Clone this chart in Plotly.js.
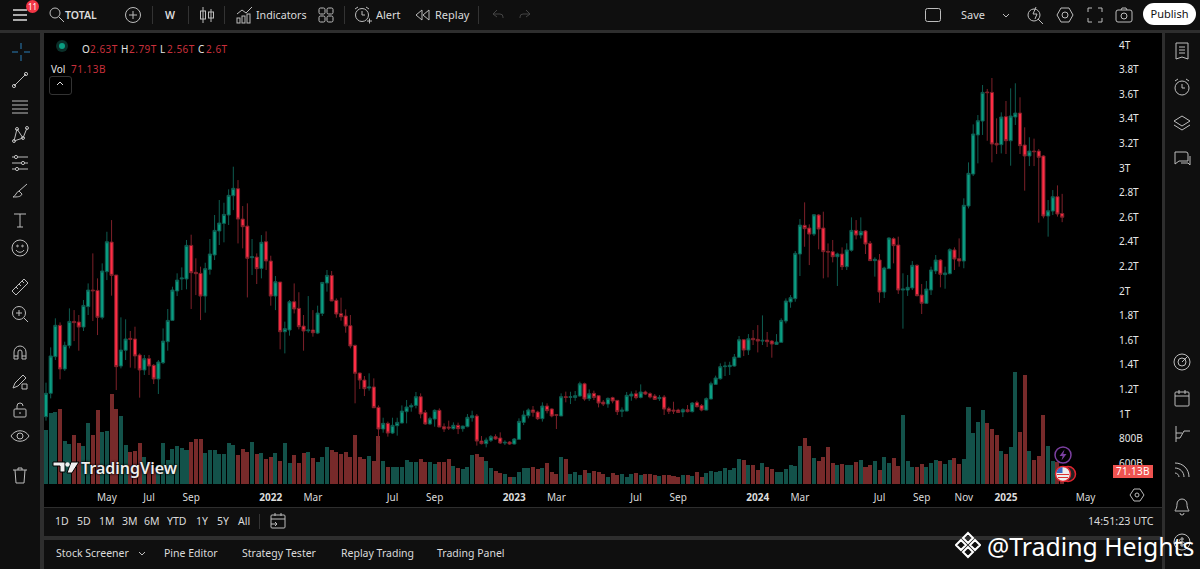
<!DOCTYPE html>
<html><head><meta charset="utf-8">
<script src="https://cdn.plot.ly/plotly-3.0.1.min.js"></script>
<style>
html,body{margin:0;padding:0;background:#2e2e2e;width:1200px;height:569px;overflow:hidden;font-family:"Noto Sans",sans-serif;color:#dbdbdb}
.p{position:absolute}
.t{position:absolute;white-space:nowrap;font-size:11px;line-height:14px;color:#dbdbdb}
#chart{position:absolute;left:0;top:0;width:1200px;height:569px}
svg.i{position:absolute;fill:none;stroke:#bdbdbd;stroke-width:1}
</style></head><body>
<div class="p" style="left:0;top:0;width:1200px;height:30px;background:#0f0f0f"></div>
<div class="p" style="left:0;top:33px;width:40px;height:536px;background:#0f0f0f"></div>
<div class="p" style="left:44px;top:33px;width:1118px;height:474px;background:#000"></div>
<div class="p" style="left:44px;top:508px;width:1118px;height:28px;background:#0f0f0f"></div>
<div class="p" style="left:44px;top:540px;width:1118px;height:29px;background:#0f0f0f"></div>
<div class="p" style="left:1165px;top:33px;width:35px;height:536px;background:#0f0f0f"></div>
<div id="chart"></div>
<div id="ui"></div>
<script>
const weeks=[
'2021-02-01','2021-02-08','2021-02-15','2021-02-22','2021-03-01','2021-03-08','2021-03-15','2021-03-22','2021-03-29','2021-04-05','2021-04-12','2021-04-19','2021-04-26','2021-05-03','2021-05-10','2021-05-17','2021-05-24','2021-05-31','2021-06-07','2021-06-14','2021-06-21','2021-06-28','2021-07-05','2021-07-12','2021-07-19','2021-07-26','2021-08-02','2021-08-09','2021-08-16','2021-08-23','2021-08-30','2021-09-06','2021-09-13','2021-09-20','2021-09-27','2021-10-04','2021-10-11','2021-10-18','2021-10-25','2021-11-01','2021-11-08','2021-11-15','2021-11-22','2021-11-29','2021-12-06','2021-12-13','2021-12-20','2021-12-27',
'2022-01-03','2022-01-10','2022-01-17','2022-01-24','2022-01-31','2022-02-07','2022-02-14','2022-02-21','2022-02-28','2022-03-07','2022-03-14','2022-03-21','2022-03-28','2022-04-04','2022-04-11','2022-04-18','2022-04-25','2022-05-02','2022-05-09','2022-05-16','2022-05-23','2022-05-30','2022-06-06','2022-06-13','2022-06-20','2022-06-27','2022-07-04','2022-07-11','2022-07-18','2022-07-25','2022-08-01','2022-08-08','2022-08-15','2022-08-22','2022-08-29','2022-09-05','2022-09-12','2022-09-19','2022-09-26','2022-10-03','2022-10-10','2022-10-17','2022-10-24','2022-10-31','2022-11-07','2022-11-14','2022-11-21','2022-11-28','2022-12-05','2022-12-12','2022-12-19','2022-12-26',
'2023-01-02','2023-01-09','2023-01-16','2023-01-23','2023-01-30','2023-02-06','2023-02-13','2023-02-20','2023-02-27','2023-03-06','2023-03-13','2023-03-20','2023-03-27','2023-04-03','2023-04-10','2023-04-17','2023-04-24','2023-05-01','2023-05-08','2023-05-15','2023-05-22','2023-05-29','2023-06-05','2023-06-12','2023-06-19','2023-06-26','2023-07-03','2023-07-10','2023-07-17','2023-07-24','2023-07-31','2023-08-07','2023-08-14','2023-08-21','2023-08-28','2023-09-04','2023-09-11','2023-09-18','2023-09-25','2023-10-02','2023-10-09','2023-10-16','2023-10-23','2023-10-30','2023-11-06','2023-11-13','2023-11-20','2023-11-27','2023-12-04','2023-12-11','2023-12-18','2023-12-25',
'2024-01-01','2024-01-08','2024-01-15','2024-01-22','2024-01-29','2024-02-05','2024-02-12','2024-02-19','2024-02-26','2024-03-04','2024-03-11','2024-03-18','2024-03-25','2024-04-01','2024-04-08','2024-04-15','2024-04-22','2024-04-29','2024-05-06','2024-05-13','2024-05-20','2024-05-27','2024-06-03','2024-06-10','2024-06-17','2024-06-24','2024-07-01','2024-07-08','2024-07-15','2024-07-22','2024-07-29','2024-08-05','2024-08-12','2024-08-19','2024-08-26','2024-09-02','2024-09-09','2024-09-16','2024-09-23','2024-09-30','2024-10-07','2024-10-14','2024-10-21','2024-10-28','2024-11-04','2024-11-11','2024-11-18','2024-11-25','2024-12-02','2024-12-09','2024-12-16','2024-12-23','2024-12-30',
'2025-01-06','2025-01-13','2025-01-20','2025-01-27','2025-02-03','2025-02-10','2025-02-17','2025-02-24','2025-03-03','2025-03-10','2025-03-17','2025-03-24','2025-03-31'];
// trillions
const opens=[0.978,1.168,1.466,1.721,1.366,1.556,1.753,1.748,1.707,1.873,2.008,2.005,1.786,2.157,2.398,2.13,1.39,1.518,1.615,1.61,1.48,1.358,1.45,1.396,1.285,1.417,1.588,1.761,2.0,2.098,2.098,2.371,2.152,2.144,1.959,2.176,2.293,2.488,2.55,2.618,2.775,2.832,2.585,2.528,2.271,2.276,2.184,2.401,2.244,1.959,2.073,1.669,1.683,1.913,1.859,1.715,1.677,1.683,
1.658,1.818,2.065,2.127,1.924,1.816,1.797,1.718,1.558,1.333,1.276,1.211,1.22,1.054,0.878,0.924,0.845,0.905,0.927,1.019,1.057,1.07,1.141,1.013,0.919,0.959,1.03,0.897,0.894,0.881,0.908,0.881,0.897,0.97,0.984,0.78,0.759,0.786,0.816,0.805,0.764,0.772,0.756,0.794,0.932,0.986,1.033,1.016,0.962,1.065,1.041,0.995,0.984,1.141,
1.135,1.135,1.146,1.246,1.125,1.168,1.149,1.097,1.081,1.133,1.111,1.022,1.024,1.146,1.165,1.135,1.179,1.165,1.146,1.125,1.138,1.043,1.032,1.032,1.016,1.035,1.019,1.092,1.07,1.032,1.122,1.241,1.287,1.385,1.385,1.39,1.461,1.604,1.52,1.615,1.607,1.593,1.601,1.593,1.566,1.583,1.756,1.911,1.938,2.301,2.534,2.512,2.463,2.618,2.512,2.322,
2.32,2.279,2.301,2.198,2.331,2.493,2.455,2.488,2.388,2.247,2.252,1.992,2.182,2.426,2.374,2.008,2.008,2.025,2.209,1.968,1.9,2.008,2.163,2.252,2.133,2.141,2.334,2.263,2.244,2.691,2.951,3.269,3.382,3.618,3.615,3.201,3.19,3.418,3.222,3.415,3.447,3.187,3.098,3.138,3.138,3.098,2.61,2.65,2.767,2.63];
const highs=[1.255,1.542,1.778,1.745,1.588,1.859,1.845,1.805,1.927,2.062,2.306,2.103,2.225,2.482,2.577,2.13,1.786,1.77,1.675,1.71,1.493,1.48,1.48,1.406,1.439,1.696,1.854,2.035,2.144,2.192,2.415,2.458,2.266,2.198,2.23,2.423,2.618,2.74,2.718,2.827,3.011,2.902,2.691,2.713,2.423,2.306,2.455,2.485,2.287,2.122,2.073,1.751,1.927,2.062,1.99,1.805,1.959,1.845,
1.881,2.07,2.171,2.163,1.94,1.946,1.851,1.805,1.564,1.336,1.309,1.331,1.29,1.07,0.97,0.938,0.97,0.97,1.07,1.114,1.087,1.179,1.168,1.032,0.978,1.038,1.046,0.924,0.946,0.932,0.93,0.905,1.0,1.027,1.0,0.821,0.808,0.829,0.835,0.851,0.786,0.78,0.805,0.965,1.027,1.046,1.065,1.027,1.095,1.087,1.046,0.997,1.168,1.182,
1.181,1.187,1.263,1.255,1.2,1.19,1.152,1.114,1.135,1.141,1.114,1.054,1.179,1.184,1.192,1.241,1.19,1.176,1.162,1.154,1.154,1.059,1.1,1.043,1.046,1.073,1.097,1.108,1.081,1.135,1.263,1.312,1.412,1.425,1.425,1.488,1.634,1.607,1.65,1.683,1.723,1.802,1.667,1.601,1.65,1.778,1.94,1.967,2.325,2.585,2.721,2.542,2.626,2.626,2.645,2.387,
2.415,2.312,2.355,2.388,2.599,2.577,2.599,2.496,2.407,2.274,2.301,2.198,2.437,2.437,2.442,2.144,2.13,2.244,2.217,2.057,2.082,2.198,2.293,2.26,2.198,2.347,2.355,2.428,2.754,3.046,3.355,3.431,3.675,3.643,3.732,3.404,3.453,3.545,3.648,3.689,3.575,3.331,3.25,3.239,3.155,3.106,2.74,2.821,2.859,2.79];
const lows=[0.946,1.127,1.439,1.282,1.35,1.534,1.593,1.515,1.675,1.805,1.756,1.642,1.77,2.089,1.962,1.195,1.371,1.439,1.377,1.371,1.133,1.317,1.317,1.244,1.163,1.406,1.515,1.756,1.959,2.008,2.014,1.854,1.967,1.764,1.824,2.133,2.252,2.374,2.396,2.537,2.658,2.387,2.347,1.948,2.13,2.057,2.103,2.171,1.881,1.845,1.526,1.493,1.637,1.818,1.688,1.515,1.661,1.629,
1.65,1.797,1.995,1.919,1.783,1.759,1.661,1.534,1.087,1.203,1.146,1.19,1.051,0.761,0.848,0.816,0.837,0.824,0.924,0.924,1.019,1.046,0.965,0.913,0.913,0.897,0.894,0.854,0.87,0.873,0.837,0.856,0.892,0.938,0.743,0.753,0.729,0.772,0.791,0.756,0.748,0.75,0.753,0.794,0.91,0.965,0.978,0.951,0.938,1.005,0.973,0.878,0.984,1.095,
1.081,1.108,1.141,1.108,1.106,1.114,1.054,1.065,1.051,1.087,0.992,0.975,1.022,1.108,1.119,1.127,1.154,1.127,1.114,1.106,0.992,1.0,1.0,1.008,0.975,1.013,1.013,1.054,1.022,1.03,1.119,1.236,1.279,1.309,1.317,1.385,1.458,1.471,1.48,1.561,1.501,1.561,1.545,1.458,1.561,1.58,1.737,1.864,1.913,2.122,2.36,2.211,2.447,2.339,2.103,2.111,
2.233,2.041,2.171,2.171,2.32,2.42,2.428,2.301,2.244,2.117,1.905,1.943,2.179,2.225,1.976,1.694,1.96,2.008,1.957,1.813,1.895,1.968,2.138,2.03,2.019,2.136,2.171,2.198,2.185,2.672,2.935,3.038,3.269,3.222,3.046,3.114,3.119,3.114,3.019,3.35,3.114,2.816,3.016,3.016,2.556,2.591,2.442,2.618,2.605,2.56];
const closes=[1.168,1.472,1.721,1.366,1.558,1.753,1.743,1.707,1.883,2.008,2.002,1.786,2.163,2.401,2.127,1.385,1.52,1.61,1.607,1.472,1.358,1.45,1.39,1.285,1.423,1.593,1.761,2.008,2.089,2.106,2.371,2.149,2.141,1.959,2.182,2.301,2.493,2.553,2.623,2.778,2.835,2.585,2.523,2.266,2.279,2.182,2.396,2.244,1.959,2.076,1.669,1.694,1.913,1.854,1.71,1.675,1.683,1.661,
1.821,2.07,2.127,1.919,1.813,1.791,1.715,1.553,1.331,1.276,1.206,1.22,1.051,0.878,0.924,0.845,0.908,0.932,1.024,1.057,1.07,1.141,1.0,0.919,0.962,1.03,0.894,0.878,0.886,0.908,0.881,0.902,0.973,0.986,0.78,0.759,0.789,0.816,0.797,0.764,0.77,0.756,0.797,0.94,0.992,1.033,1.014,0.962,1.065,1.027,0.984,0.989,1.141,1.135,
1.141,1.149,1.246,1.122,1.165,1.135,1.089,1.081,1.127,1.106,1.019,1.032,1.152,1.162,1.133,1.179,1.162,1.138,1.119,1.135,1.04,1.022,1.024,1.013,1.035,1.019,1.089,1.059,1.032,1.125,1.246,1.293,1.385,1.39,1.396,1.463,1.604,1.52,1.612,1.604,1.593,1.599,1.588,1.569,1.585,1.761,1.919,1.946,2.306,2.536,2.507,2.463,2.62,2.504,2.32,2.317,
2.279,2.301,2.198,2.334,2.493,2.455,2.485,2.382,2.247,2.258,1.992,2.187,2.431,2.369,2.008,2.016,2.03,2.209,1.962,1.9,2.016,2.171,2.252,2.136,2.147,2.336,2.26,2.244,2.697,2.957,3.277,3.385,3.615,3.613,3.195,3.187,3.415,3.222,3.423,3.447,3.182,3.098,3.138,3.133,3.087,2.61,2.653,2.767,2.626,2.6];
// billions
const volumes=[293,389,395,413,235,217,268,222,207,331,268,404,282,289,491,413,373,213,173,180,222,146,122,86,104,222,131,189,207,195,184,229,248,248,169,184,184,166,166,222,211,160,193,175,228,164,167,137,149,169,127,222,116,160,116,167,177,144,
122,146,204,184,173,164,175,146,268,146,138,153,126,262,126,93,91,93,95,131,122,122,138,122,118,109,118,118,135,98,87,84,95,157,164,149,126,87,71,60,55,36,38,67,86,87,93,82,87,115,66,55,146,138,
56,67,49,76,60,71,64,55,40,58,51,53,36,56,58,47,55,56,49,44,47,47,44,40,47,47,44,64,40,60,71,64,71,87,76,87,137,131,104,106,78,115,93,80,66,66,80,102,98,207,249,207,142,126,146,202,
115,104,111,104,104,122,131,95,104,126,76,149,115,140,100,377,126,91,95,111,95,116,129,126,111,129,140,107,135,419,278,339,404,333,300,268,180,166,202,613,284,595,180,129,153,380,206,126,122,71.13];
const priceTicks=[4,3.8,3.6,3.4,3.2,3,2.8,2.6,2.4,2.2,2,1.8,1.6,1.4,1.2,1,0.8,0.6];
const priceLabels=['4T','3.8T','3.6T','3.4T','3.2T','3T','2.8T','2.6T','2.4T','2.2T','2T','1.8T','1.6T','1.4T','1.2T','1T','800B','600B'];
const timeTicks=['2021-05-03','2021-07-05','2021-09-06','2022-01-03','2022-03-07','2022-07-04','2022-09-05','2023-01-02','2023-03-06','2023-07-03','2023-09-04','2024-01-01','2024-03-04','2024-07-01','2024-09-02','2024-11-04','2025-01-06','2025-05-05'];
const timeLabels=['May','Jul','Sep','<b>2022</b>','Mar','Jul','Sep','<b>2023</b>','Mar','Jul','Sep','<b>2024</b>','Mar','Jul','Sep','Nov','<b>2025</b>','May'];

const UP='#0a9e82',DN='#ff2d45',UPW='#0e5c50',DNW='#7d2029',UPV='#13524a',DNV='#772a2a';
const font='"Noto Sans",sans-serif';
Plotly.newPlot('chart',[
 {type:'bar',x:weeks,y:volumes,xaxis:'x',yaxis:'y',width:7*864e5*0.86,
  marker:{color:closes.map((c,i)=>c>=opens[i]?UPV:DNV),line:{width:0}},hoverinfo:'skip'},
 {type:'candlestick',x:weeks,open:opens,high:highs,low:lows,close:closes,xaxis:'x',yaxis:'y2',whiskerwidth:0,
  increasing:{line:{color:UPW,width:1},fillcolor:UP},decreasing:{line:{color:DNW,width:1},fillcolor:DN},hoverinfo:'skip'}
],{
 width:1200,height:569,margin:{l:44,r:87,t:33,b:85,pad:0},showlegend:false,
 paper_bgcolor:'rgba(0,0,0,0)',plot_bgcolor:'#000',bargap:0,boxgap:0.05,boxgroupgap:0.3,
 xaxis:{type:'date',range:['2021-01-29','2025-06-15'],rangeslider:{visible:false},showgrid:false,zeroline:false,showline:false,
  tickmode:'array',tickvals:timeTicks,ticktext:timeLabels,ticks:'outside',ticklen:4,tickcolor:'rgba(0,0,0,0)',tickangle:0,
  tickfont:{family:font,size:10,color:'#dbdbdb'}},
 yaxis:{range:[0,2467],visible:false,fixedrange:true},
 yaxis2:{overlaying:'y',side:'right',range:[0.431,4.098],showgrid:false,zeroline:false,showline:false,
  tickmode:'array',tickvals:priceTicks,ticktext:priceLabels,ticks:'outside',ticklen:3,tickcolor:'rgba(0,0,0,0)',
  tickfont:{family:font,size:10,color:'#e6e6e6'}}
},{staticPlot:true,displayModeBar:false});

const ui=document.getElementById('ui');
function txt(s,x,y,o={}){const d=document.createElement('div');d.className='t';d.textContent=s;d.style.left=x+'px';d.style.top=(y-7)+'px';
 Object.assign(d.style,o);ui.appendChild(d);return d;}
function ic(x,y,body,w=20,h=20,c){const n='http://www.w3.org/2000/svg',s=document.createElementNS(n,'svg');s.setAttribute('class','i');s.setAttribute('width',w);s.setAttribute('height',h);s.setAttribute('viewBox',`0 0 ${w} ${h}`);
 s.style.left=(x-w/2)+'px';s.style.top=(y-h/2)+'px';if(c)s.style.stroke=c;s.innerHTML=body;ui.appendChild(s);}
// top bar
ic(20,15,'<path d="M3 5h14M3 10h14M3 15h14" stroke-width="1.6" stroke="#ddd"/>');
txt('11',27,7,{left:'26px',width:'13px',height:'13px',lineHeight:'13px',borderRadius:'7px',background:'#f23645',color:'#fff',fontSize:'8px',textAlign:'center'});
ic(57,15,'<circle cx="8" cy="8" r="5"/><path d="M12 12l5 5"/>');
txt('TOTAL',65,15,{fontWeight:'600',fontSize:'10.5px'});
ic(133,15,'<circle cx="10" cy="10" r="7.5"/><path d="M6 10h8M10 6v8"/>');
txt('W',165,15,{fontWeight:'600',fontSize:'10.5px'});
ic(207,15,'<path d="M6 2v16M14 4v13"/><rect x="3.5" y="6" width="5" height="8" /><rect x="11.5" y="7" width="5" height="6"/>');
ic(244,15,'<path d="M3 9l5-4 4 3 6-6"/><rect x="3" y="13" width="3" height="5"/><rect x="8" y="11" width="3" height="7"/><rect x="13" y="9" width="3" height="9"/>');
txt('Indicators',256,15,{fontSize:'10.7px'});
ic(326,15,'<rect x="3" y="3" width="6" height="6" rx="1.5"/><rect x="11" y="3" width="6" height="6" rx="1.5"/><rect x="3" y="11" width="6" height="6" rx="1.5"/><rect x="11" y="11" width="6" height="6" rx="1.5"/>');
ic(363,15,'<circle cx="9" cy="10" r="6.5"/><path d="M9 6v4h3M2 4l3-2M16 4l-3-2M14 16h5M16.5 13.5v5"/>');
txt('Alert',376,15);
ic(423,15,'<path d="M9 5l-6 5 6 5zM16 5l-6 5 6 5z"/>');
txt('Replay',435,15);
ic(497,15,'<path d="M6 9l4-4M6 9l4 3M6 9h7a3 3 0 0 1 3 3v1"/>',20,20,'#444');
ic(526,15,'<path d="M14 9l-4-4M14 9l-4 3M14 9h-7a3 3 0 0 0-3 3v1"/>',20,20,'#444');
for(const x of [152,188,224,344,478]){const d=document.createElement('div');d.className='p';d.style.cssText=`left:${x}px;top:6px;width:1px;height:18px;background:#333`;ui.appendChild(d);}
ic(933,15,'<rect x="2.5" y="3.5" width="15" height="13" rx="2"/>');
txt('Save',961,15);
ic(1006,15,'<path d="M7 9l3 3 3-3"/>');
ic(1035,15,'<circle cx="9" cy="10" r="6"/><path d="M13 14l5 5M11 2l-3 7h4l-2 5" />');
ic(1065,15,'<path d="M6 3h8l4 7-4 7H6l-4-7z"/><circle cx="10" cy="10" r="3"/>');
ic(1095,15,'<path d="M3 7V3h4M13 3h4v4M17 13v4h-4M7 17H3v-4"/>');
ic(1124,15,'<rect x="2" y="5" width="16" height="12" rx="2"/><circle cx="10" cy="11" r="3"/><path d="M7 5l1-2h4l1 2"/>');
const pub=document.createElement('div');pub.className='t';pub.textContent='Publish';
pub.style.cssText='left:1143px;top:3px;width:53px;height:22px;line-height:22px;border-radius:11px;background:#fff;color:#111;text-align:center;font-size:11px';ui.appendChild(pub);
// legend
const dot=document.createElement('div');dot.className='p';dot.style.cssText='left:59px;top:43px;width:6px;height:6px;border-radius:50%;background:#0a9e82;box-shadow:0 0 0 3px #0b2f29';ui.appendChild(dot);
const RED={color:'#c9303c',fontSize:'10px',letterSpacing:'.5px'},W={color:'#e6e6e6',fontSize:'10px'};
txt('O',82,49,W);txt('2.63T',90,49,RED);txt('H',121,49,W);txt('2.79T',129,49,RED);txt('L',160,49,W);txt('2.56T',167,49,RED);txt('C',198,49,W);txt('2.6T',206,49,RED);
txt('Vol',51,69,W);txt('71.13B',71,69,RED);
const col=document.createElement('div');col.className='p';col.style.cssText='left:49px;top:76px;width:21px;height:17px;border:1px solid #333;border-radius:3px';ui.appendChild(col);
ic(60,84,'<path d="M7 11l3-3 3 3" stroke="#ddd"/>');
// logo
ic(66,468,'<path d="M1 3h12v10H8V7H1z" fill="#f0f0f0" stroke="#000"/><path d="M19 3h8l-7 11h-5z" fill="#f0f0f0" stroke="#000"/><circle cx="15.5" cy="5.5" r="2.2" fill="#f0f0f0" stroke="none"/>',28,18);
txt('TradingView',81,468,{fontSize:'16px',fontWeight:'600',color:'#eee',textShadow:'0 0 3px #000,0 0 2px #000'});
// markers
ic(1063,455,'<circle cx="10" cy="10" r="8" stroke="#7b3fa0" stroke-width="1.5"/><path d="M11.5 4.5L6.5 11h3.2L8.5 15.5 13.5 9h-3.2z" fill="#7b3fa0" stroke="none"/>',20,20);
ic(1068,474,'<circle cx="9" cy="9" r="7.5" stroke="#e0242f" fill="#222" stroke-width="1.5"/>',18,18);
ic(1063,474,'<circle cx="9" cy="9" r="7.5" stroke="#e0242f" fill="#eee" stroke-width="1.5"/><path d="M3 9.5h12M4 12.5h10" stroke="#d33"/><path d="M2.5 8a7 7 0 0 1 6-6v6z" fill="#3b6bc4" stroke="none"/>',18,18);
const vl=document.createElement('div');vl.className='t';vl.textContent='71.13B';
vl.style.cssText='left:1113px;top:465px;width:40px;height:13px;line-height:13px;background:#ef5350;color:#fff;font-size:10px;text-align:center;letter-spacing:.3px';ui.appendChild(vl);
ic(1137,495,'<path d="M6 3h6l4 6-4 6H6L2 9z"/><circle cx="9" cy="9" r="2"/>',18,18,'#bbb');
// range bar
const ranges=[['1D',55],['5D',77],['1M',99],['3M',122],['6M',144],['YTD',167],['1Y',196],['5Y',217],['All',238]];
ranges.forEach(r=>txt(r[0],r[1],521,{fontSize:'10.5px'}));
const sep=document.createElement('div');sep.className='p';sep.style.cssText='left:259px;top:514px;width:1px;height:15px;background:#333';ui.appendChild(sep);
ic(278,521,'<rect x="3" y="4" width="14" height="13" rx="1"/><path d="M3 8h14M7 2v3M13 2v3M3 13h6M7 11l2 2-2 2"/>');
txt('14:51:23 UTC',1088,521,{fontSize:'10.7px'});
// tabs
[['Stock Screener',56],['Pine Editor',164],['Strategy Tester',242],['Replay Trading',341],['Trading Panel',437]].forEach(r=>txt(r[0],r[1],553,{fontSize:'10.5px'}));
ic(142,553,'<path d="M7 9l3 3 3-3"/>');
// left toolbar
ic(21,52,'<path d="M10 1v6M10 13v6M1 10h6M13 10h6" stroke="#2a7fb8"/>');
ic(20,80,'<path d="M4 16L16 4"/><circle cx="4" cy="16" r="1.6"/><circle cx="16" cy="4" r="1.6"/>');
ic(20,107,'<path d="M2 4h16M2 8h16M2 12h16M2 16h16"/>');
ic(20,135,'<path d="M4 16L7 4l6 9 4-10M4 16l9-3"/><circle cx="4" cy="16" r="1.5"/><circle cx="7" cy="4" r="1.5"/><circle cx="13" cy="13" r="1.5"/><circle cx="17" cy="3" r="1.5"/>');
ic(20,163,'<path d="M2 4h16M2 10h16M2 16h16"/><circle cx="6" cy="4" r="1.6" fill="#0f0f0f"/><circle cx="13" cy="10" r="1.6" fill="#0f0f0f"/><circle cx="7" cy="16" r="1.6" fill="#0f0f0f"/>');
ic(20,191,'<path d="M3 16c3-1 3-5 6-6l3 3c-1 3-5 3-9 3zM9 10l8-7"/>');
ic(20,220,'<path d="M4 4h12M10 4v13M7 17h6"/>');
ic(20,248,'<circle cx="10" cy="10" r="8"/><circle cx="7.5" cy="8" r=".8"/><circle cx="12.5" cy="8" r=".8"/><path d="M6 12c2 3 6 3 8 0"/>');
ic(20,287,'<path d="M2 14L14 2l4 4L6 18zM6 10l2 2M9 7l2 2M12 4l2 2"/>');
ic(20,314,'<circle cx="9" cy="9" r="6.5"/><path d="M14 14l4 4M6 9h6M9 6v6"/>');
ic(20,353,'<path d="M4 16V9a6 6 0 0 1 12 0v7h-4V9a2 2 0 0 0-4 0v7zM4 13h4M12 13h4"/>');
ic(20,381,'<path d="M3 17l2-5L13 4l3 3-8 8zM12 13h5v5h-5z"/>');
ic(20,410,'<rect x="4" y="9" width="12" height="8" rx="1"/><path d="M7 9V6a3 3 0 0 1 6 0"/><path d="M10 12v2"/>');
ic(20,436,'<path d="M1 10c4-7 14-7 18 0-4 7-14 7-18 0z"/><circle cx="10" cy="10" r="3"/>');
ic(20,475,'<path d="M3 5h14M8 5V3h4v2M5 5l1 13h8l1-13"/>');
// right toolbar
ic(1182,51,'<path d="M4 2h12v16l-6-2-6 2zM7 6h6M7 9h6M7 12h6"/>');
ic(1182,87,'<circle cx="10" cy="11" r="7"/><path d="M10 7v4h3M3 4l3-2M17 4l-3-2"/>');
ic(1182,123,'<path d="M10 3l8 5-8 5-8-5zM2 12l8 5 8-5"/>');
ic(1182,159,'<path d="M3 3h11a2 2 0 0 1 2 2v7H7l-4 3z"/><path d="M18 7v9l-2-2H9"/>');
ic(1182,362,'<circle cx="10" cy="10" r="8"/><circle cx="10" cy="10" r="4"/><path d="M10 10l6-6"/>');
ic(1182,398,'<rect x="3" y="4" width="14" height="14" rx="1"/><path d="M3 8h14M7 2v4M13 2v4"/>');
ic(1182,434,'<path d="M4 2v16M4 14h4l4-7h6M4 9h6"/>');
ic(1182,470,'<path d="M3 3c8 0 14 6 14 14M3 8c5 0 9 4 9 9M3 13c2 0 4 2 4 4"/>');
ic(1182,506,'<path d="M10 3a5 5 0 0 1 5 5c0 5 2 6 2 7H3c0-1 2-2 2-7a5 5 0 0 1 5-5zM8 17a2 2 0 0 0 4 0"/>');
ic(1182,542,'<circle cx="10" cy="10" r="8"/><path d="M12 7H9a1.5 1.5 0 0 0 0 3h2a1.5 1.5 0 0 1 0 3H8M10 5v10"/>');
// watermark
ic(968,545,'<path d="M13 2l5 5-5 5-5-5zM6 9l5 5-5 5-5-5zM20 9l5 5-5 5-5-5zM13 16l5 5-5 5-5-5z" stroke="#fff" stroke-width="2"/>',26,28);
txt('@Trading Heights',987,546,{fontSize:'24.8px',lineHeight:'14px',color:'#fff'});
</script>
</body></html>
